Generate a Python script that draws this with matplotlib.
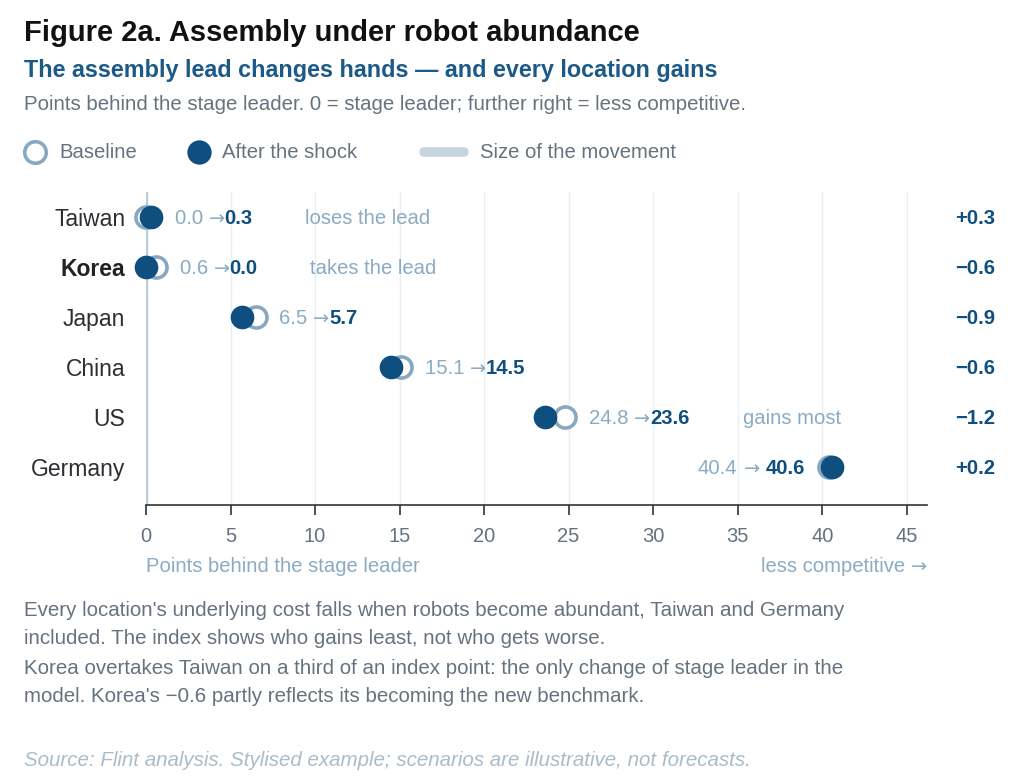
import matplotlib
matplotlib.use("Agg")
import matplotlib.pyplot as plt
from matplotlib.lines import Line2D
from matplotlib.text import Annotation
import matplotlib.transforms as mtransforms

plt.rcParams['font.family'] = ['Liberation Sans', 'DejaVu Sans']

# ---- data ----
countries = ["Taiwan", "Korea", "Japan", "China", "US", "Germany"]
baseline = [0.0, 0.6, 6.5, 15.1, 24.8, 40.4]
after = [0.3, 0.0, 5.7, 14.5, 23.6, 40.6]
changes = ["+0.3", "\u22120.6", "\u22120.9", "\u22120.6", "\u22121.2", "+0.2"]
notes = {"Taiwan": "loses the lead", "Korea": "takes the lead", "US": "gains most"}
note_x = {"Taiwan": 9.4, "Korea": 9.7, "US": 35.3}
xticks = [0, 5, 10, 15, 20, 25, 30, 35, 40, 45]

DARK = "#0f4f80"
RING = "#86a8c0"
LIGHTTXT = "#8aabc3"
MOVE = "#c5d5e0"
GRAY = "#66727f"
FS = 14.6
ARROWFAM = ['DejaVu Sans']
VA = "center_baseline"

fig = plt.figure(figsize=(10.24, 7.82), dpi=100)
W, H = 1024, 782
def fx(px): return px / W
def fy(py): return 1 - py / H

ax = fig.add_axes([fx(146), fy(505), fx(927) - fx(146), fy(192) - fy(505)])
ax.set_xlim(0, 46.2)
ax.set_ylim(5.76, -0.5)
ys = list(range(len(countries)))

# grid
for t in xticks[1:]:
    ax.axvline(t, color="#e9eff3", lw=1, zorder=0)
ax.axvline(0, color="#b9cedd", lw=2.5, zorder=1)

# movement lines
for y, b, a in zip(ys, baseline, after):
    ax.plot([b, a], [y, y], color=MOVE, lw=8, solid_capstyle='round', zorder=2, clip_on=False)

ax.scatter(baseline, ys, s=230, facecolor="white", edgecolor=RING, linewidth=2.6, zorder=3, clip_on=False)
ax.scatter(after, ys, s=290, facecolor=DARK, edgecolor=DARK, linewidth=0, zorder=4, clip_on=False)

# value labels
for name, y, b, a in zip(countries, ys, baseline, after):
    if name == "Germany":
        t3 = ax.annotate(f"{a:.1f}", xy=(min(a, b), y), xytext=(-17, 0), textcoords="offset points",
                         ha="right", va=VA, fontsize=FS, fontweight="bold", color=DARK)
        t2 = ax.annotate(" \u2192 ", xy=(0, 0.5), xycoords=t3, ha="right", va="center",
                         fontsize=FS * 0.95, color=LIGHTTXT, family=ARROWFAM)
        ax.annotate(f"{b:.1f}", xy=(0, 0.5), xycoords=t2, ha="right", va="center",
                    fontsize=FS, color=LIGHTTXT)
    else:
        t1 = ax.annotate(f"{b:.1f} ", xy=(max(a, b), y), xytext=(17, 0), textcoords="offset points",
                         ha="left", va=VA, fontsize=FS, color=LIGHTTXT)
        t2 = ax.annotate("\u2192", xy=(1, 0.5), xycoords=t1, ha="left", va="center",
                         fontsize=FS * 0.95, color=LIGHTTXT, family=ARROWFAM)
        ax.annotate(f"{a:.1f}", xy=(1, 0.5), xycoords=t2, ha="left", va="center",
                    fontsize=FS, fontweight="bold", color=DARK)
    if name in notes:
        ax.text(note_x[name], y, notes[name], ha="left", va=VA, fontsize=FS, color=LIGHTTXT)

# right column changes
trans = mtransforms.blended_transform_factory(fig.transFigure, ax.transData)
for y, c in zip(ys, changes):
    ax.text(fx(995), y, c, transform=trans, ha="right", va=VA, fontsize=FS,
            fontweight="bold", color=DARK)

# y labels
ax.set_yticks(ys)
ax.set_yticklabels(countries, fontsize=16.5, color="#2b2f33")
for lbl in ax.get_yticklabels():
    if lbl.get_text() == "Korea":
        lbl.set_fontweight("bold")
        lbl.set_color("#222222")
ax.tick_params(axis='y', length=0, pad=15)

ax.set_xticks(xticks)
ax.set_xticklabels([str(t) for t in xticks], fontsize=14.5, color=GRAY)
ax.tick_params(axis='x', length=7, width=1.2, color="#333333", pad=9)

for s in ["top", "right", "left"]:
    ax.spines[s].set_visible(False)
ax.spines["bottom"].set_color("#333333")
ax.spines["bottom"].set_linewidth(1.2)

# axis captions
fig.text(fx(146), fy(567), "Points behind the stage leader", ha="left", va="center",
         fontsize=FS, color=LIGHTTXT)
ta = fig.text(fx(927), fy(567), "\u2192", ha="right", va="center",
              fontsize=FS * 0.95, color=LIGHTTXT, family=ARROWFAM)
fig.add_artist(Annotation("less competitive ", xy=(0, 0.5), xycoords=ta,
                          ha="right", va="center", fontsize=FS, color=LIGHTTXT))

# header
fig.text(fx(24), fy(33), "Figure 2a. Assembly under robot abundance", ha="left", va="center",
         fontsize=21, fontweight="bold", color="#111111")
fig.text(fx(24), fy(70), "The assembly lead changes hands \u2014 and every location gains", ha="left",
         va="center", fontsize=16.8, fontweight="bold", color="#1b5a86")
fig.text(fx(24), fy(105), "Points behind the stage leader. 0 = stage leader; further right = less competitive.",
         ha="left", va="center", fontsize=14.7, color=GRAY)

# legend
fig.add_artist(Line2D([fx(35)], [fy(152)], marker='o', markersize=15.5, markerfacecolor='white',
                      markeredgecolor=RING, markeredgewidth=2.6, transform=fig.transFigure))
fig.text(fx(59), fy(153), "Baseline", ha="left", va="center", fontsize=FS, color=GRAY)
fig.add_artist(Line2D([fx(199)], [fy(152)], marker='o', markersize=17.5, markerfacecolor=DARK,
                      markeredgecolor=DARK, markeredgewidth=0, transform=fig.transFigure))
fig.text(fx(222), fy(153), "After the shock", ha="left", va="center", fontsize=FS, color=GRAY)
fig.add_artist(Line2D([fx(424), fx(464)], [fy(152), fy(152)], lw=7, color=MOVE,
                      solid_capstyle='round', transform=fig.transFigure))
fig.text(fx(480), fy(153), "Size of the movement", ha="left", va="center", fontsize=FS, color=GRAY)

# notes
body = ["Every location's underlying cost falls when robots become abundant, Taiwan and Germany",
        "included. The index shows who gains least, not who gets worse.",
        "Korea overtakes Taiwan on a third of an index point: the only change of stage leader in the",
        "model. Korea's \u22120.6 partly reflects its becoming the new benchmark."]
for i, line in enumerate(body):
    fig.text(fx(24), fy(610 + 29 * i), line, ha="left", va="center", fontsize=14.75, color=GRAY)

fig.text(fx(24), fy(760), "Source: Flint analysis. Stylised example; scenarios are illustrative, not forecasts.",
         ha="left", va="center", fontsize=14.8, style="italic", color="#a9bccb")

fig.savefig("out.png", dpi=100)
